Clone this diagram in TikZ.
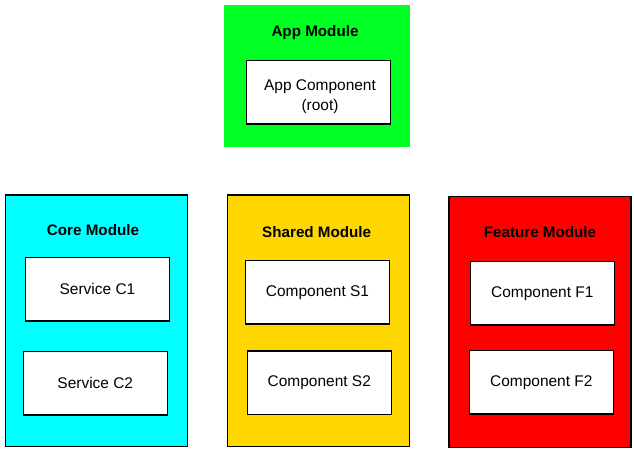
\documentclass[tikz,border=0pt]{standalone}
\usepackage{fontspec}
\setmainfont{Liberation Sans}
\definecolor{appgreen}{RGB}{0,255,34}
\definecolor{corecyan}{RGB}{0,255,255}
\definecolor{sharedgold}{RGB}{255,215,0}
\definecolor{featred}{RGB}{255,0,0}
\begin{document}
\begin{tikzpicture}[x=0.75pt,y=-0.75pt,
  module/.style={draw=black,line width=1.1pt,rectangle,minimum width=136.5pt,minimum height=188.8pt,inner sep=0pt},
  inner/.style={draw=black,fill=white,line width=1.1pt,rectangle,minimum width=108pt,minimum height=47.6pt,inner sep=0pt,font=\fontsize{11.6pt}{15pt}\selectfont,align=center},
  title/.style={font=\fontsize{11.4pt}{13.5pt}\selectfont\bfseries,inner sep=0pt}]
\useasboundingbox[fill=white] (0,0) rectangle (635,452);
% App module
\node[rectangle,fill=appgreen,minimum width=139.5pt,minimum height=106.5pt,inner sep=0pt] (app) at (317,76) {};
\node[title] (apptitle) at (315,33) {App Module};
\node[inner,label={[align=center,inner sep=0pt,font=\fontsize{11.6pt}{15pt}\selectfont,yshift=-3.2pt,xshift=1pt]center:App Component\\(root)}] (appcomp) at (318.7,92.5) {};
% Core module
\node[module,fill=corecyan] (core) at (96.3,320.8) {};
\node[title] (coretitle) at (93,230) {Core Module};
\node[inner] (c1) at (97.5,289.2) {Service C1};
\node[inner] (c2) at (95.3,383.3) {Service C2};
% Shared module
\node[module,fill=sharedgold] (shared) at (318.3,320.8) {};
\node[title] (sharedtitle) at (316.7,232.2) {Shared Module};
\node[inner] (s1) at (317.5,292.3) {Component S1};
\node[inner] (s2) at (319.3,382.5) {Component S2};
% Feature module
\node[module,fill=featred,minimum height=188.2pt] (feature) at (540.2,322.2) {};
\node[title] (featuretitle) at (540,232.2) {Feature Module};
\node[inner] (f1) at (542.3,293.3) {Component F1};
\node[inner] (f2) at (541.3,382.3) {Component F2};
\end{tikzpicture}
\end{document}
